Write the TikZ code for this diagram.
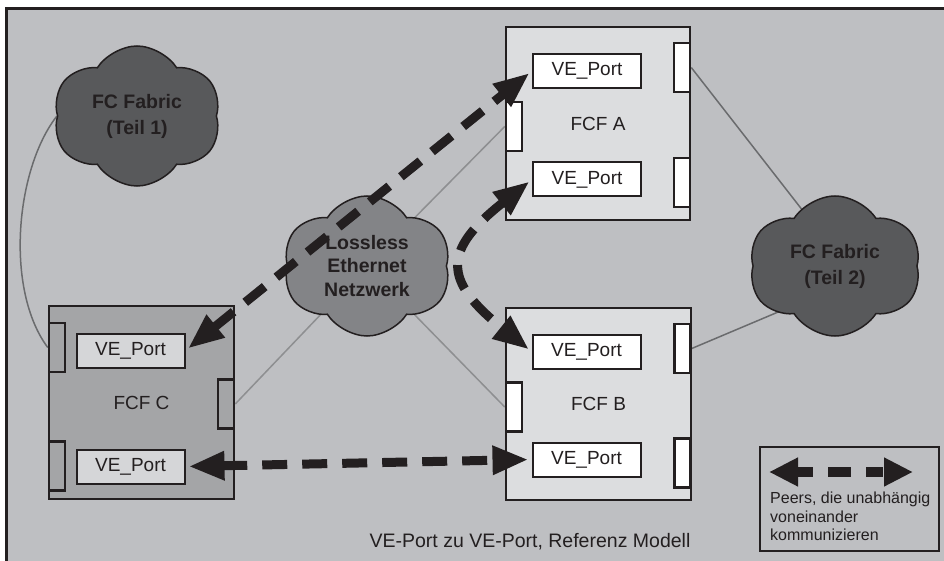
\documentclass[tikz,border=0pt]{standalone}
\usepackage{fontspec}
\setmainfont{Liberation Sans}
\usetikzlibrary{shapes.symbols,arrows.meta}

\definecolor{ink}{HTML}{231F20}
\definecolor{paper}{HTML}{BEBFC2}
\definecolor{fcflight}{HTML}{DCDDDF}
\definecolor{fcfdark}{HTML}{A4A5A7}
\definecolor{portgray}{HTML}{D5D6D8}
\definecolor{clouddark}{HTML}{58595B}
\definecolor{cloudmid}{HTML}{838487}
\definecolor{linkdark}{HTML}{6A6B6D}
\definecolor{linklight}{HTML}{8E8F91}

\pgfdeclarelayer{bg}
\pgfdeclarelayer{links}
\pgfsetlayers{bg,links,main}

\begin{document}
\begin{tikzpicture}[x=1pt,y=-1pt,
	fcf/.style={draw=ink, line width=2pt, fill=fcflight, minimum width=184pt, minimum height=193pt, text=ink, font=\fontsize{19}{23}\selectfont},
	veport/.style={draw=ink, line width=2pt, fill=white, minimum width=108pt, minimum height=34pt, inner sep=0pt, text=ink, font=\fontsize{19}{23}\selectfont},
	slot/.style={draw=ink, line width=2.5pt, fill=white, minimum width=16pt, minimum height=49pt, inner sep=0pt},
	fabric/.style={cloud, cloud puffs=6, cloud puff arc=115, cloud ignores aspect, draw=ink, line width=1.5pt, fill=clouddark, minimum width=168pt, minimum height=140pt, inner sep=0pt, align=center, text=ink, font=\bfseries\fontsize{19.5}{26}\selectfont},
	link/.style={draw=linkdark, line width=1.5pt},
	peer/.style={draw=ink, line width=9pt, dash pattern=on 25pt off 15pt, shorten <=3pt, shorten >=3pt, {Triangle[length=36pt,width=27pt]}-{Triangle[length=36pt,width=27pt]}}]
	\useasboundingbox (0,0) rectangle (944,561);

	\begin{pgfonlayer}{bg}
		\fill[paper] (6,8) rectangle (944,561);
		\draw[ink, line width=2.7pt] (6.8,561) |- (944,8.8);
	\end{pgfonlayer}

	% FCF switches
	\node[fcf] (fcfA) at (598,123.5) {FCF A};
	\node[fcf, minimum width=185pt, minimum height=192pt] (fcfB) at (598.5,404) {FCF B};
	\node[fcf, fill=fcfdark, minimum width=185pt] (fcfC) at (141.5,402.5) {FCF C};

	\foreach \s/\x/\y in {Al/514/126.5, Ar1/682/67.5, Ar2/682/182.5, Bl/514/407, Br1/682.5/348.5, Br2/682.5/463}
		\node[slot] (slot\s) at (\x,\y) {};
	\foreach \s/\x/\y in {Cl1/57/347.5, Cl2/57/466, Cr/226/404}
		\node[slot, fill=fcfdark] (slot\s) at (\x,\y) {};

	\node[veport] (veA1) at (587,71) {VE\textunderscore Port};
	\node[veport] (veA2) at (587,179.5) {VE\textunderscore Port};
	\node[veport] (veB1) at (586.5,351.5) {VE\textunderscore Port};
	\node[veport] (veB2) at (586.5,459.5) {VE\textunderscore Port};
	\node[veport, fill=portgray] (veC1) at (130.5,350.5) {VE\textunderscore Port};
	\node[veport, fill=portgray] (veC2) at (130.5,466.5) {VE\textunderscore Port};

	% clouds
	\node[fabric] (teil1) at (137,116) {FC Fabric\\(Teil 1)};
	\node[fabric, fill=cloudmid, font=\bfseries\fontsize{19.5}{23.5}\selectfont] (lossless) at (367,266) {Lossless\\Ethernet\\Netzwerk};
	\node[fabric, minimum width=172pt, minimum height=140pt] (teil2) at (835,266) {FC Fabric\\(Teil 2)};

	\begin{pgfonlayer}{links}
		\draw[link] (teil1.west) .. controls (15,170) and (5,290) .. (slotCl1.west);
		\draw[link, draw=linklight] (lossless.center) -- (slotAl.west);
		\draw[link, draw=linklight] (lossless.center) -- (slotBl.west);
		\draw[link, draw=linklight] (lossless.center) -- (slotCr.east);
		\draw[link] ([yshift=14pt]teil2.center) -- (slotAr1.east);
		\draw[link] ([yshift=-22pt]teil2.center) -- (slotBr1.east);
	\end{pgfonlayer}

	% peer connections
	\draw[peer] (veC1.east) -- (veA1.west);
	\draw[peer] (veC2.east) -- (veB2.west);
	\draw[peer] (veA2.west) .. controls (443,250) and (442,280) .. (veB1.west);

	% legend
	\node[draw=ink, line width=2.5pt, minimum width=179pt, minimum height=104pt] (legend) at (849.5,499) {};
	\coordinate (legL) at (769,472);
	\coordinate (legR) at (913,472);
	\draw[peer, line width=10pt, shorten <=0pt, shorten >=0pt, dash pattern=on 17pt off 15pt on 23pt off 15pt, {Triangle[length=29pt,width=27pt]}-{Triangle[length=29pt,width=27pt]}] (legL) -- (legR);
	\node[anchor=north west, inner sep=0pt, align=left, text=ink, font=\fontsize{16}{18.5}\selectfont] (legtext) at (770,492) {Peers, die unabhängig\\voneinander\\kommunizieren};

	\node[text=ink, font=\fontsize{19.5}{23}\selectfont] (caption) at (530,542) {VE-Port zu VE-Port, Referenz Modell};
\end{tikzpicture}
\end{document}
